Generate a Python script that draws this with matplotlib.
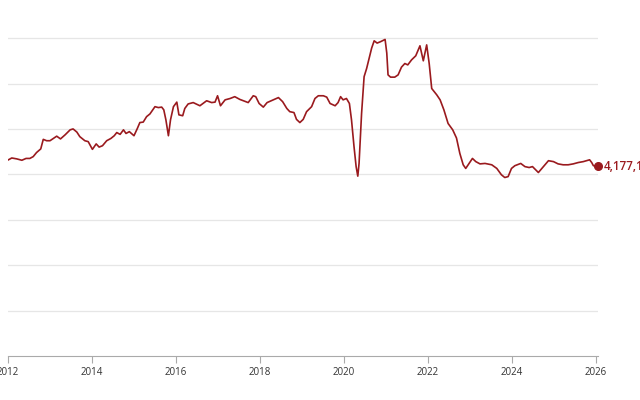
import matplotlib.pyplot as plt

# decimal year, value in millions
years = [2012.01, 2012.09, 2012.21, 2012.33, 2012.43, 2012.52, 2012.60, 2012.68,
         2012.78, 2012.84, 2012.92, 2013.00, 2013.08, 2013.16, 2013.25, 2013.36,
         2013.48, 2013.55, 2013.64, 2013.71, 2013.83, 2013.91, 2014.01, 2014.10,
         2014.17, 2014.25, 2014.35, 2014.45, 2014.53, 2014.59, 2014.67, 2014.75,
         2014.81, 2014.89, 2015.00, 2015.08, 2015.14, 2015.22, 2015.30, 2015.38,
         2015.50, 2015.58, 2015.66, 2015.71, 2015.76, 2015.82, 2015.87, 2015.94,
         2016.02, 2016.07, 2016.16, 2016.21, 2016.29, 2016.41, 2016.57, 2016.73,
         2016.85, 2016.93, 2016.99, 2017.06, 2017.17, 2017.29, 2017.40, 2017.52,
         2017.72, 2017.84, 2017.90, 2017.98, 2018.08, 2018.17, 2018.32, 2018.44,
         2018.54, 2018.64, 2018.71, 2018.81, 2018.87, 2018.95, 2019.03, 2019.11,
         2019.23, 2019.31, 2019.39, 2019.51, 2019.59, 2019.67, 2019.79, 2019.86,
         2019.92, 2019.98, 2020.06, 2020.13, 2020.18, 2020.24, 2020.29, 2020.33,
         2020.36, 2020.42, 2020.48, 2020.54, 2020.60, 2020.66, 2020.72, 2020.79,
         2020.87, 2020.98, 2021.02, 2021.05, 2021.11, 2021.21, 2021.29, 2021.37,
         2021.45, 2021.52, 2021.61, 2021.71, 2021.81, 2021.89, 2021.97, 2022.03,
         2022.09, 2022.21, 2022.29, 2022.38, 2022.48, 2022.59, 2022.68, 2022.76,
         2022.84, 2022.90, 2022.98, 2023.06, 2023.14, 2023.24, 2023.36, 2023.52,
         2023.64, 2023.75, 2023.83, 2023.91, 2023.99, 2024.07, 2024.21, 2024.31,
         2024.41, 2024.49, 2024.63, 2024.75, 2024.87, 2024.99, 2025.10, 2025.22,
         2025.34, 2025.46, 2025.58, 2025.70, 2025.85, 2025.90, 2025.94, 2026.05]
values = [4.32, 4.36, 4.34, 4.31, 4.35, 4.35, 4.39, 4.48,
          4.56, 4.77, 4.74, 4.74, 4.79, 4.84, 4.78, 4.87,
          4.98, 5.00, 4.93, 4.83, 4.74, 4.72, 4.55, 4.67,
          4.60, 4.63, 4.74, 4.79, 4.85, 4.92, 4.88, 4.98,
          4.90, 4.94, 4.85, 5.01, 5.14, 5.15, 5.27, 5.33,
          5.49, 5.47, 5.48, 5.42, 5.20, 4.85, 5.20, 5.49,
          5.59, 5.31, 5.29, 5.45, 5.55, 5.58, 5.51, 5.62,
          5.58, 5.59, 5.73, 5.51, 5.64, 5.67, 5.71, 5.65,
          5.58, 5.73, 5.71, 5.56, 5.48, 5.58, 5.64, 5.69,
          5.60, 5.45, 5.38, 5.36, 5.21, 5.14, 5.21, 5.38,
          5.49, 5.67, 5.73, 5.73, 5.70, 5.56, 5.51, 5.58,
          5.71, 5.64, 5.67, 5.56, 5.20, 4.61, 4.17, 3.96,
          4.24, 5.34, 6.15, 6.33, 6.56, 6.78, 6.94, 6.89,
          6.92, 6.97, 6.67, 6.19, 6.14, 6.14, 6.19, 6.36,
          6.44, 6.41, 6.52, 6.61, 6.83, 6.50, 6.85, 6.44,
          5.89, 5.75, 5.64, 5.42, 5.12, 4.98, 4.80, 4.46,
          4.21, 4.13, 4.24, 4.35, 4.28, 4.23, 4.24, 4.21,
          4.13, 3.99, 3.93, 3.95, 4.13, 4.19, 4.24, 4.17,
          4.15, 4.17, 4.04, 4.17, 4.30, 4.28, 4.23, 4.21,
          4.21, 4.23, 4.26, 4.28, 4.32, 4.26, 4.19, 4.177]
last_label = "4,177,1"
xticks = [2012, 2014, 2016, 2018, 2020, 2022, 2024, 2026]
yticks = [1, 2, 3, 4, 5, 6, 7]

red = "#9a1a1e"

fig = plt.figure(figsize=(6.4, 4), dpi=100)
ax = fig.add_axes([8 / 640, 1 - 356 / 400, 590 / 640, 327 / 400])

ax.plot(years, values, color=red, lw=1.2, solid_joinstyle="round")
ax.plot(years[-1], values[-1], "o", color=red, ms=5.5, clip_on=False)
ax.annotate(last_label, (years[-1], values[-1]), xytext=(4, 0),
            textcoords="offset points", va="center", ha="left",
            color=red, fontsize=8.5, fontfamily="Open Sans", fontweight="semibold",
            annotation_clip=False)

ax.set_xlim(2012, 2026.05)
ax.set_ylim(0, 7.2)
ax.set_xticks(xticks)
ax.set_xticklabels([str(y) for y in xticks], fontsize=7, color="#333333",
                   fontfamily="Open Sans")
ax.set_yticks(yticks)
ax.set_yticklabels([])
ax.tick_params(axis="y", length=0)
ax.tick_params(axis="x", length=5, width=0.8, color="#aaaaaa", pad=3)
ax.grid(axis="y", color="#e6e6e6", lw=0.9)
ax.set_axisbelow(True)
for s in ["top", "right", "left"]:
    ax.spines[s].set_visible(False)
ax.spines["bottom"].set_color("#aaaaaa")
ax.spines["bottom"].set_linewidth(0.8)

fig.savefig("out.png", dpi=100)
